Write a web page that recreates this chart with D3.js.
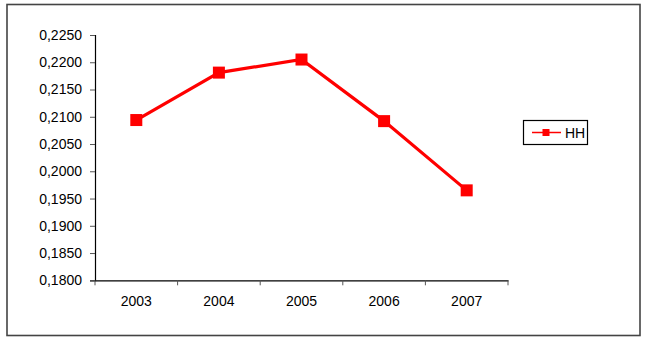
<!DOCTYPE html>
<html>
<head>
<meta charset="utf-8">
<script src="https://cdnjs.cloudflare.com/ajax/libs/d3/7.8.5/d3.min.js"></script>
<style>
  body { margin: 0; background: #fff; }
  svg text { font-family: "Liberation Sans", Arial, sans-serif; fill: #000; }
</style>
</head>
<body>
<svg id="chart" width="647" height="341"></svg>
<script>
var years = ["2003", "2004", "2005", "2006", "2007"]
var hh = [0.2094, 0.2181, 0.2205, 0.2092, 0.1965]
var yTicks = [0.1800, 0.1850, 0.1900, 0.1950, 0.2000, 0.2050, 0.2100, 0.2150, 0.2200, 0.2250]
var seriesName = "HH"

var svg = d3.select("#chart")

// outer frame
svg.append("rect")
    .attr("x", 7).attr("y", 4.5)
    .attr("width", 633).attr("height", 331)
    .attr("fill", "none")
    .attr("stroke", "#444")
    .attr("stroke-width", 1.6)

var plotLeft = 95, plotRight = 508, plotTop = 35, plotBottom = 280.3

var x = d3.scaleBand().domain(years).range([plotLeft, plotRight])
var y = d3.scaleLinear().domain([0.18, 0.225]).range([plotBottom, plotTop])

var fmt = function(d) { return d3.format(".4f")(d).replace(".", ",") }

var yAxis = svg.append("g")
    .attr("transform", "translate(" + plotLeft + ",0)")
    .call(d3.axisLeft(y).tickValues(yTicks).tickFormat(fmt).tickSize(5).tickPadding(8))
yAxis.select(".domain").attr("stroke", "#000").attr("stroke-width", 1.2)
yAxis.selectAll(".tick line").attr("stroke", "#555")
yAxis.selectAll("text").style("font-size", "14px")

var xAxis = svg.append("g")
    .attr("transform", "translate(0," + plotBottom + ")")
    .call(d3.axisBottom(x).tickSize(0).tickPadding(16))
xAxis.select(".domain").attr("stroke", "#000").attr("stroke-width", 1.2)
xAxis.selectAll("text").style("font-size", "14px")

// tick marks between categories
var edges = years.map(function(d) { return x(d) }).concat([plotRight])
svg.selectAll(".xt").data(edges).enter().append("line")
    .attr("x1", function(d) { return d }).attr("x2", function(d) { return d })
    .attr("y1", plotBottom).attr("y2", plotBottom + 5)
    .attr("stroke", "#555")

var cx = function(d, i) { return x(years[i]) + x.bandwidth() / 2 }

var line = d3.line()
    .x(function(d, i) { return cx(d, i) })
    .y(function(d) { return y(d) })

svg.append("path")
    .datum(hh)
    .attr("d", line)
    .attr("fill", "none")
    .attr("stroke", "#ff0000")
    .attr("stroke-width", 3.2)

svg.selectAll(".mk").data(hh).enter().append("rect")
    .attr("x", function(d, i) { return cx(d, i) - 6 })
    .attr("y", function(d) { return y(d) - 6 })
    .attr("width", 12).attr("height", 12)
    .attr("fill", "#ff0000")

// legend
var lg = svg.append("g")
lg.append("rect")
    .attr("x", 523.5).attr("y", 120.5)
    .attr("width", 64).attr("height", 24)
    .attr("fill", "#fff").attr("stroke", "#000").attr("stroke-width", 1.2)
lg.append("line")
    .attr("x1", 532).attr("x2", 561).attr("y1", 132.5).attr("y2", 132.5)
    .attr("stroke", "#ff0000").attr("stroke-width", 1.5)
lg.append("rect")
    .attr("x", 542.5).attr("y", 129).attr("width", 7).attr("height", 7)
    .attr("fill", "#ff0000")
lg.append("text")
    .attr("x", 565).attr("y", 137.5)
    .style("font-size", "14px")
    .text(seriesName)
</script>
</body>
</html>
